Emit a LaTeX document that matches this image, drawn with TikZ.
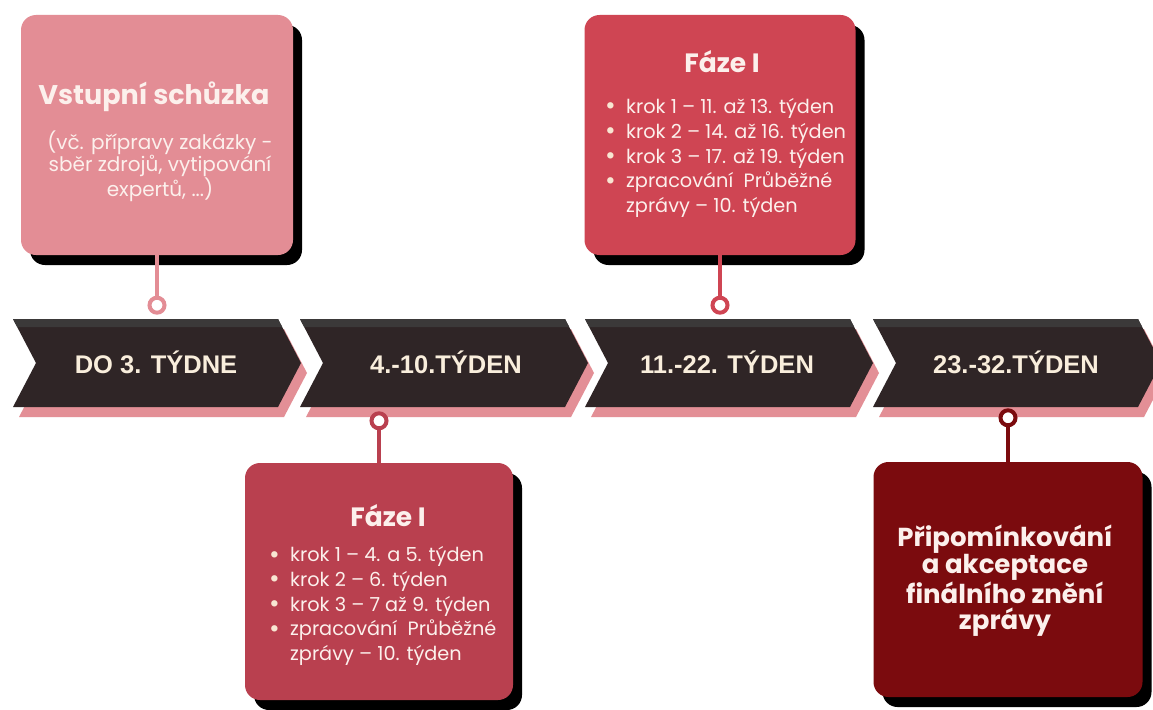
\documentclass[tikz,border=0pt]{standalone}
\usepackage{fontspec}
\setmainfont{Poppins}
\newfontfamily\chevfont{Liberation Sans}
\usetikzlibrary{calc,shadows}
\definecolor{chevdark}{HTML}{2F2526}
\definecolor{chevtop}{HTML}{3B3939}
\definecolor{chevpink}{HTML}{E38F96}
\definecolor{chevtext}{HTML}{F9EEDC}
\definecolor{boxa}{HTML}{E38D95}
\definecolor{boxb}{HTML}{CF4553}
\definecolor{boxc}{HTML}{B9404F}
\definecolor{boxd}{HTML}{7B0B0E}
\definecolor{boxtext}{HTML}{FCF0EC}
\definecolor{bulcol}{HTML}{F8E6D2}
\tikzset{
  card/.style={rounded corners=15pt, inner sep=0pt, draw=none,
    drop shadow={shadow xshift=9pt, shadow yshift=-10pt, opacity=1, fill=black}},
  ring/.style={circle, fill=white, line width=4pt, minimum size=15pt, inner sep=0pt},
  stem/.style={line width=4pt},
  chevlabel/.style={text=chevtext, font=\chevfont\bfseries\fontsize{25.5}{29}\selectfont, inner sep=0pt},
  cardtext/.style={text=boxtext, inner sep=0pt},
}
\newcommand\mychev[1]{%
  \fill[chevpink] (#1+6,329) -- (#1+271,329) -- (#1+294,373) -- (#1+271,417) -- (#1+6,417) -- (#1+29,373) -- cycle;
  \fill[chevdark] (#1,319) -- (#1+265,319) -- (#1+288,363) -- (#1+265,407) -- (#1,407) -- (#1+23,363) -- cycle;
  \fill[chevtop] (#1,319) -- (#1+265,319) -- (#1+269.2,327) -- (#1+4.2,327) -- cycle;
}
\newcommand\bul{\makebox[22pt][l]{\hspace{1pt}\raisebox{-1.5pt}{\textcolor{bulcol}{\fontsize{26}{0}\selectfont\textbullet}}}}
\begin{document}
\begin{tikzpicture}[x=1pt,y=-1pt]
\useasboundingbox (0,0) rectangle (1153,709);
\fill[white] (0,0) rectangle (1153,709);

% chevrons
\mychev{13}
\mychev{300}
\mychev{585}
\mychev{873}
\node[chevlabel] (c1) at (156,362.5) {DO 3. TÝDNE};
\node[chevlabel] (c2) at (446,362.5) {4.-10.TÝDEN};
\node[chevlabel] (c3) at (727,362.5) {11.-22. TÝDEN};
\node[chevlabel] (c4) at (1016,362.5) {23.-32.TÝDEN};

% cards
\node[card, fill=boxa, minimum width=272pt, minimum height=240pt] (b1) at (157,135) {};
\node[card, fill=boxb, minimum width=271pt, minimum height=240pt] (b2) at (720,135) {};
\node[card, fill=boxc, minimum width=268pt, minimum height=237pt] (b3) at (379,581.5) {};
\node[card, fill=boxd, minimum width=269pt, minimum height=235pt] (b4) at (1008,579.5) {};

% connectors
\node[ring, draw=boxa] (r1) at ($(b1.south)+(0,50)$) {};
\node[ring, draw=boxb] (r2) at ($(b2.south)+(0,50)$) {};
\node[ring, draw=boxc] (r3) at ($(b3.north)+(0,-42)$) {};
\node[ring, draw=boxd] (r4) at ($(b4.north)+(0,-44)$) {};
\draw[stem, boxa] (b1.south) -- (r1);
\draw[stem, boxb] (b2.south) -- (r2);
\draw[stem, boxc] (b3.north) -- (r3);
\draw[stem, boxd] (b4.north) -- (r4);

% texts card 1
\node[cardtext, font=\bfseries\fontsize{27}{30}\selectfont] (t1) at (154,97) {Vstupní schůzka};
\node[cardtext, align=center, font=\fontsize{20}{22}\selectfont] (s1) at (160,166)
  {(vč. přípravy zakázky -\\ sběr zdrojů, vytipování\\ expertů, ...)};

% card 2
\node[cardtext, font=\bfseries\fontsize{26.5}{30}\selectfont] (t2) at (722,62) {Fáze I};
\node[cardtext, align=left, anchor=west, font=\fontsize{19.3}{24.8}\selectfont] (l2) at (604,158)
  {\bul krok 1 – 11. až 13. týden\\
   \bul krok 2 – 14. až 16. týden\\
   \bul krok 3 – 17. až 19. týden\\
   \bul zpracování\ \ Průběžné\\
   \hspace{22pt}zprávy – 10. týden};

% card 3
\node[cardtext, font=\bfseries\fontsize{26.5}{30}\selectfont] (t3) at (388,516) {Fáze I};
\node[cardtext, align=left, anchor=west, font=\fontsize{19.3}{24.6}\selectfont] (l3) at (268,606)
  {\bul krok 1 – 4. a 5. týden\\
   \bul krok 2 – 6. týden\\
   \bul krok 3 – 7 až 9. týden\\
   \bul zpracování\ \ Průběžné\\
   \hspace{22pt}zprávy – 10. týden};

% card 4
\node[cardtext, align=center, font=\bfseries\fontsize{26}{26.7}\selectfont] (t4) at (1005,581)
  {Připomínkování\\ a akceptace\\ finálního znění\\ zprávy};
\end{tikzpicture}
\end{document}
